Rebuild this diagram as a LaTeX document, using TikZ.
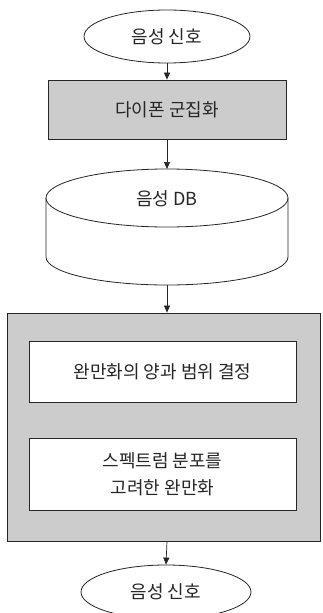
\documentclass[tikz,border=0pt]{standalone}
\usepackage{fontspec}
\newfontfamily\kr{Noto Sans CJK KR}
\usetikzlibrary{arrows.meta,shapes.geometric}
\begin{document}
\begin{tikzpicture}[x=1pt,y=-1pt,
  every node/.style={font=\kr\fontsize{18}{27}\selectfont, text=black!85, inner sep=0pt, align=center},
  outline/.style={draw=black!85, line width=0.8pt},
  termnode/.style={outline, ellipse, fill=white},
  graybox/.style={outline, rectangle, fill=black!20},
  whitebox/.style={outline, rectangle, fill=white},
  flow/.style={draw=black!85, line width=0.7pt, -{Triangle[length=7pt,width=6pt]}}]
\useasboundingbox (0,0) rectangle (323,613);
\clip (0,0) rectangle (323,613);
\fill[white] (0,0) rectangle (323,613);

% top terminal
\node[termnode, minimum width=166pt, minimum height=53pt] (s1) at (167,36.5) {음성 신호};
% diphone clustering
\node[graybox, minimum width=238pt, minimum height=59pt] (b1) at (167,109.5) {다이폰 군집화};

% database cylinder
\draw[outline, fill=white] (46,198) -- (46,257)
  arc[start angle=180, end angle=360, x radius=121pt, y radius=28pt]
  -- (288,198);
\draw[outline, fill=white] (167,198) ellipse [x radius=121pt, y radius=29pt];
\coordinate (dbtop) at (167,169);
\coordinate (dbbot) at (167,285);
\node (db) at (167,199) {음성 DB};

% smoothing block
\node[graybox, minimum width=313pt, minimum height=228pt] (big) at (163.5,427) {};
\node[whitebox, minimum width=267pt, minimum height=61pt] (i1) at (162.5,371.5) {완만화의 양과 범위 결정};
\node[whitebox, minimum width=267pt, minimum height=72pt] (i2) at (162.5,474) {스펙트럼 분포를\\고려한 완만화};

% bottom terminal
\node[termnode, minimum width=170pt, minimum height=54pt] (s2) at (166,592) {음성 신호};

% connectors
\draw[flow] (s1.south) -- (b1.north);
\draw[flow] (b1.south) -- (dbtop);
\draw[flow] (dbbot) -- (big.north -| dbbot);
\draw[flow] (big.south -| dbbot) -- (s2.north);
\end{tikzpicture}
\end{document}
